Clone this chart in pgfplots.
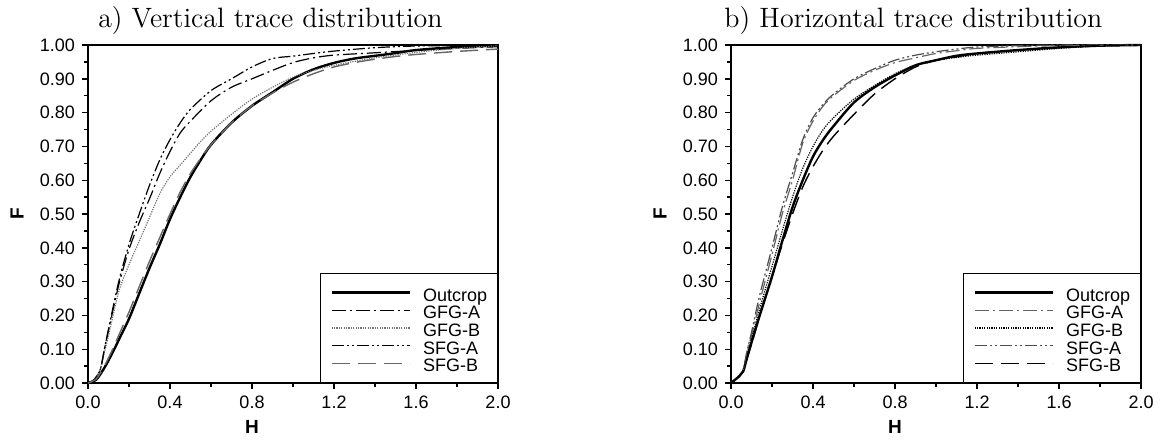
\documentclass[border=0pt]{standalone}
\usepackage{fontspec}
\usepackage{pgfplots}
\pgfplotsset{compat=1.18}
\newfontfamily\arial{Liberation Sans}
\tikzset{
 outc/.style={black, line width=1.2pt, solid},
 gfga/.style={black, line width=0.6pt, dash pattern=on 7pt off 2pt on 1pt off 2pt},
 gfgb/.style={black!55, line width=0.6pt, dash pattern=on 0.6pt off 0.6pt},
 sfga/.style={black, line width=0.6pt, dash pattern=on 6pt off 1.5pt on 1pt off 1.5pt on 1pt off 1.5pt},
 sfgb/.style={black, line width=0.7pt, dash pattern=on 9pt off 4pt},
}
\pgfplotsset{
 myaxis/.style={
  scale only axis, width=205pt, height=169pt,
  xmin=0, xmax=2, ymin=0, ymax=1,
  xtick={0,0.4,...,2.0}, ytick={0,0.1,...,1.0},
  minor x tick num=1, minor y tick num=1,
  tick align=outside, xtick pos=left, ytick pos=left,
  major tick length=3pt, minor tick length=2pt,
  every tick/.style={black, line width=0.7pt},
  axis line style={line width=1pt},
  ticklabel style={font=\arial\fontsize{9}{10}\selectfont},
  xticklabel style={/pgf/number format/.cd, fixed, fixed zerofill, precision=1, assume math mode=true},
  yticklabel style={/pgf/number format/.cd, fixed, fixed zerofill, precision=2, assume math mode=true},
  ylabel={F},
  ylabel style={font=\arial\bfseries\fontsize{9.5}{10}\selectfont, at={(axis description cs:0,0.5)}, anchor=center, yshift=35.5pt},
  title style={at={(axis description cs:0.445,1)}, anchor=base, yshift=3pt, font=\fontsize{14}{16}\selectfont},
  legend cell align=left,
  legend image code/.code={\draw[##1] (0pt,0pt) -- (39pt,0pt);},
  legend style={at={(1,0)}, anchor=south east, draw=black, line width=0.6pt,
    font=\arial\fontsize{9}{10}\selectfont, inner xsep=5pt, inner ysep=5.1pt, row sep=0pt,
    nodes={inner sep=0.125pt, text height=8.6pt, text depth=0pt},
    /tikz/every odd column/.append style={column sep=6pt}},
  clip=false,
 }
}
\begin{document}
\begin{tikzpicture}
\path[use as bounding box] (0,0) rectangle (582.5pt,220.5pt);
\begin{axis}[myaxis, at={(44pt,29pt)}, anchor=south west, title={a) Vertical trace distribution}]
\addplot[outc, smooth, tension=0.5] coordinates {(0,0)(0.04,0.01)(0.08,0.045)(0.12,0.09)(0.16,0.14)(0.2,0.19)(0.25,0.265)(0.3,0.34)(0.35,0.41)(0.4,0.485)(0.45,0.55)(0.5,0.61)(0.55,0.66)(0.6,0.705)(0.7,0.77)(0.8,0.82)(0.9,0.86)(1.0,0.9)(1.1,0.928)(1.2,0.947)(1.3,0.96)(1.4,0.968)(1.5,0.976)(1.6,0.985)(1.8,0.994)(2.0,0.998)};
\addlegendentry{Outcrop}
\addplot[gfga, smooth, tension=0.5] coordinates {(0,0)(0.03,0.01)(0.06,0.04)(0.08,0.1)(0.1,0.155)(0.15,0.29)(0.2,0.395)(0.25,0.475)(0.3,0.545)(0.35,0.62)(0.4,0.685)(0.45,0.74)(0.5,0.775)(0.6,0.835)(0.7,0.875)(0.8,0.9)(0.9,0.925)(1.0,0.948)(1.1,0.962)(1.2,0.97)(1.4,0.977)(1.6,0.984)(1.8,0.99)(2.0,0.995)};
\addlegendentry{GFG-A}
\addplot[gfgb, smooth, tension=0.5] coordinates {(0,0)(0.03,0.01)(0.06,0.04)(0.08,0.09)(0.1,0.14)(0.15,0.27)(0.2,0.35)(0.25,0.42)(0.3,0.49)(0.35,0.56)(0.4,0.61)(0.45,0.645)(0.5,0.68)(0.55,0.715)(0.6,0.745)(0.7,0.795)(0.8,0.84)(0.9,0.875)(1.0,0.905)(1.1,0.925)(1.2,0.94)(1.4,0.962)(1.6,0.978)(1.8,0.99)(2.0,0.998)};
\addlegendentry{GFG-B}
\addplot[sfga, smooth, tension=0.5] coordinates {(0,0)(0.03,0.01)(0.06,0.04)(0.08,0.1)(0.1,0.16)(0.15,0.3)(0.2,0.41)(0.25,0.5)(0.3,0.585)(0.35,0.66)(0.4,0.72)(0.45,0.77)(0.5,0.81)(0.6,0.865)(0.7,0.9)(0.8,0.935)(0.9,0.96)(1.0,0.967)(1.1,0.975)(1.2,0.982)(1.4,0.992)(1.6,0.997)(2.0,1.0)};
\addlegendentry{SFG-A}
\addplot[sfgb, black!60, smooth, tension=0.5] coordinates {(0,0)(0.04,0.012)(0.08,0.05)(0.12,0.1)(0.16,0.155)(0.2,0.21)(0.25,0.285)(0.3,0.36)(0.35,0.43)(0.4,0.5)(0.45,0.565)(0.5,0.62)(0.55,0.665)(0.6,0.705)(0.7,0.77)(0.8,0.82)(0.9,0.858)(1.0,0.89)(1.1,0.915)(1.2,0.935)(1.3,0.948)(1.4,0.958)(1.5,0.966)(1.6,0.972)(1.8,0.981)(2.0,0.988)};
\addlegendentry{SFG-B}
\node[font=\arial\bfseries\fontsize{9.5}{10}\selectfont, anchor=center] at (axis description cs:0.4,0) [yshift=-22pt] {H};
\end{axis}
\begin{axis}[myaxis, at={(365.5pt,29pt)}, anchor=south west, title={b) Horizontal trace distribution}]
\addplot[outc, smooth, tension=0.5] coordinates {(0,0)(0.04,0.02)(0.06,0.035)(0.08,0.08)(0.1,0.12)(0.14,0.2)(0.2,0.315)(0.25,0.42)(0.3,0.52)(0.35,0.6)(0.4,0.67)(0.45,0.72)(0.5,0.76)(0.6,0.83)(0.7,0.875)(0.8,0.91)(0.9,0.94)(1.0,0.955)(1.1,0.968)(1.2,0.975)(1.4,0.985)(1.6,0.993)(1.8,0.998)(2.0,1.0)};
\addlegendentry{Outcrop}
\addplot[gfga, black!60, smooth, tension=0.5] coordinates {(0,0)(0.04,0.02)(0.06,0.04)(0.08,0.1)(0.1,0.14)(0.14,0.24)(0.2,0.38)(0.25,0.5)(0.3,0.6)(0.35,0.71)(0.4,0.775)(0.45,0.82)(0.5,0.85)(0.6,0.895)(0.7,0.925)(0.8,0.948)(0.9,0.962)(1.0,0.975)(1.1,0.983)(1.2,0.99)(1.4,0.995)(1.6,0.998)(2.0,1.0)};
\addlegendentry{GFG-A}
\addplot[gfgb, black, smooth, tension=0.5] coordinates {(0,0)(0.04,0.02)(0.06,0.04)(0.08,0.09)(0.1,0.13)(0.14,0.22)(0.2,0.345)(0.25,0.45)(0.3,0.55)(0.35,0.635)(0.4,0.70)(0.45,0.75)(0.5,0.785)(0.6,0.84)(0.7,0.88)(0.8,0.915)(0.9,0.94)(1.0,0.955)(1.1,0.963)(1.2,0.97)(1.4,0.98)(1.6,0.99)(1.8,0.997)(2.0,1.0)};
\addlegendentry{GFG-B}
\addplot[sfga, black!70, smooth, tension=0.5] coordinates {(0,0)(0.04,0.02)(0.06,0.04)(0.08,0.1)(0.1,0.15)(0.14,0.26)(0.2,0.40)(0.25,0.52)(0.3,0.62)(0.35,0.72)(0.4,0.785)(0.45,0.825)(0.5,0.855)(0.6,0.90)(0.7,0.93)(0.8,0.955)(0.9,0.97)(1.0,0.98)(1.1,0.988)(1.2,0.994)(1.4,0.998)(1.6,1.0)(2.0,1.0)};
\addlegendentry{SFG-A}
\addplot[sfgb, smooth, tension=0.5] coordinates {(0,0)(0.04,0.02)(0.06,0.035)(0.08,0.075)(0.1,0.115)(0.14,0.2)(0.2,0.315)(0.25,0.41)(0.3,0.5)(0.35,0.58)(0.4,0.64)(0.45,0.69)(0.5,0.73)(0.6,0.795)(0.7,0.855)(0.8,0.9)(0.9,0.935)(1.0,0.955)(1.1,0.965)(1.2,0.975)(1.4,0.985)(1.6,0.993)(1.8,0.998)(2.0,1.0)};
\addlegendentry{SFG-B}
\node[font=\arial\bfseries\fontsize{9.5}{10}\selectfont, anchor=center] at (axis description cs:0.4,0) [yshift=-22pt] {H};
\end{axis}
\end{tikzpicture}
\end{document}
